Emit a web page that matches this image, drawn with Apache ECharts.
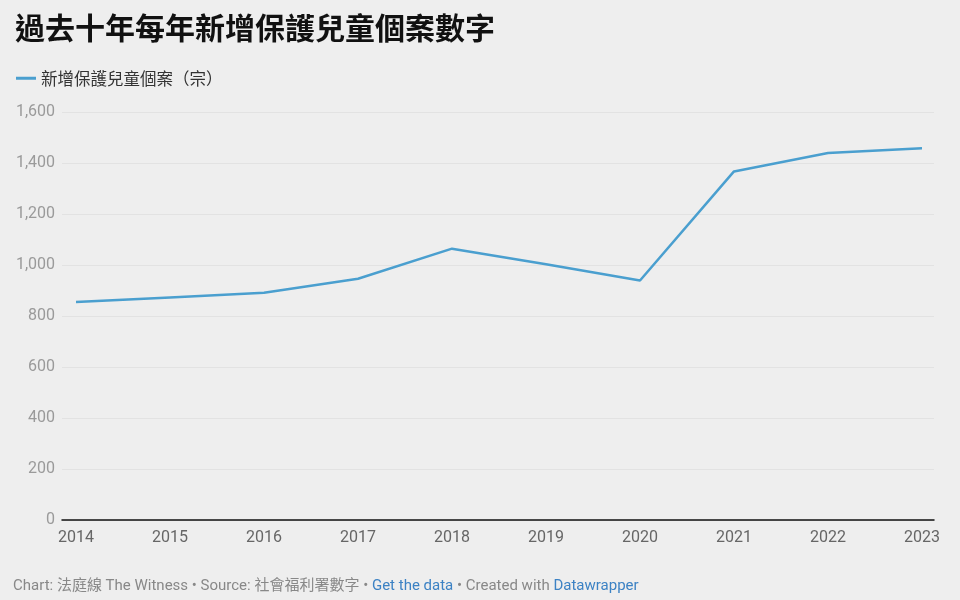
<!DOCTYPE html>
<html>
<head>
<meta charset="utf-8">
<script src="https://cdn.jsdelivr.net/npm/echarts@6/dist/echarts.min.js"></script>
<style>
html,body{margin:0;padding:0;background:#eeeeee;}
#c{width:960px;height:600px;}
</style>
</head>
<body>
<div id="c"></div>
<script>
const years = ['2014','2015','2016','2017','2018','2019','2020','2021','2022','2023'];
const cases = [855, 873, 891, 946, 1064, 1003, 939, 1367, 1439, 1458];
const yTicks = [0, 200, 400, 600, 800, 1000, 1200, 1400, 1600];
const seriesName = '新增保護兒童個案（宗）';
const titleText = '過去十年每年新增保護兒童個案數字';

const latin = 'Roboto, "Noto Sans CJK TC", sans-serif';
const chart = echarts.init(document.getElementById('c'));
chart.setOption({
  backgroundColor: '#eeeeee',
  animation: false,
  title: [{
    text: titleText,
    left: 10, top: 8,
    textStyle: {fontSize: 30, fontWeight: 'bold', color: '#111', fontFamily: '"Noto Sans CJK TC", sans-serif'}
  }, {
    text: '{g|Chart: 法庭線 The Witness • Source: 社會福利署數字 • }{b|Get the data}{g| • Created with }{b|Datawrapper}',
    left: 8, top: 574,
    textStyle: {
      fontSize: 15, fontWeight: 'normal', fontFamily: latin,
      rich: {
        g: {color: '#888888', fontSize: 15, fontWeight: 'normal', fontFamily: latin},
        b: {color: '#3c82c4', fontSize: 15, fontWeight: 'normal', fontFamily: latin}
      }
    }
  }],
  legend: {
    left: 11, top: 65,
    itemWidth: 20, itemHeight: 3, itemGap: 10,
    icon: 'rect',
    textStyle: {fontSize: 16.5, color: '#333', fontFamily: '"Noto Sans CJK TC", sans-serif'},
    data: [seriesName]
  },
  grid: [
    {left: 76, right: 38, top: 112, bottom: 80},
    {left: 62, right: 26, top: 112, bottom: 80}
  ],
  xAxis: [{
    type: 'category', gridIndex: 0, data: years, boundaryGap: false,
    axisLine: {show: false}, axisTick: {show: false},
    axisLabel: {fontSize: 16, color: '#666', margin: 10, fontFamily: latin}
  }, {
    type: 'value', gridIndex: 1, min: 0, max: 1,
    axisLine: {show: true, onZero: false, lineStyle: {color: '#111', width: 1.5}},
    axisTick: {show: false}, axisLabel: {show: false}, splitLine: {show: false}
  }],
  yAxis: [{
    type: 'value', gridIndex: 0, min: 0, max: 1600, interval: 200,
    axisLine: {show: false}, axisTick: {show: false},
    axisLabel: {show: false}, splitLine: {show: false}
  }, {
    type: 'value', gridIndex: 1, min: 0, max: 1600, interval: 200,
    axisLine: {show: false}, axisTick: {show: false},
    axisLabel: {
      fontSize: 16, color: '#9a9a9a', margin: 7, fontFamily: latin,
      formatter: v => yTicks.includes(v) ? v.toLocaleString('en-US') : ''
    },
    splitLine: {show: true, lineStyle: {color: '#e2e2e2', width: 1}}
  }],
  series: [{
    name: seriesName, type: 'line', xAxisIndex: 0, yAxisIndex: 0,
    data: cases, symbol: 'none',
    lineStyle: {color: '#4a9fcf', width: 2.5},
    itemStyle: {color: '#4a9fcf'}
  }]
});
</script>
</body>
</html>
